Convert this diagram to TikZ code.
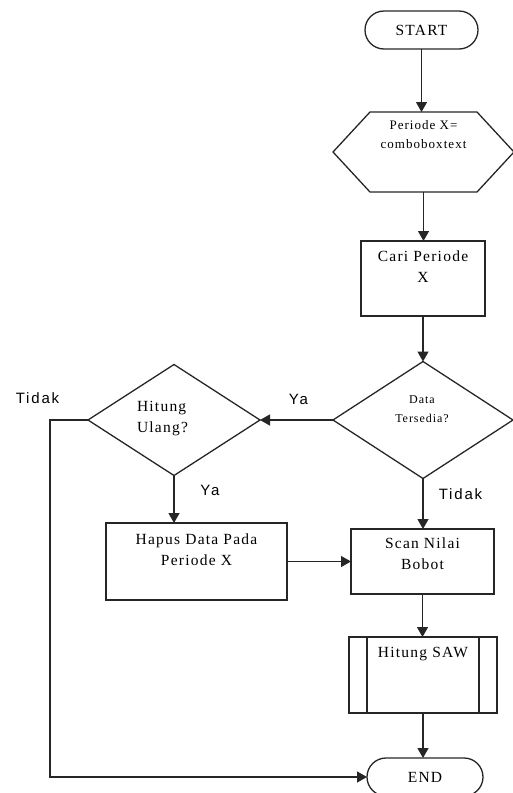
\documentclass[tikz,border=0pt]{standalone}
\usepackage{fontspec}
\setmainfont{Liberation Serif}
\newfontfamily\bxfont{Liberation Serif}[LetterSpace=8]
\newfontfamily\lblfont{Liberation Sans}[LetterSpace=12]
\usetikzlibrary{shapes.geometric,arrows.meta,calc}

\begin{document}
\begin{tikzpicture}[x=1pt,y=-1pt,
  every node/.style={inner sep=0pt, outer sep=0pt},
  flowline/.style={draw=black!85, line width=1.3pt},
  arrowline/.style={flowline, -{Triangle[length=10pt,width=11pt]}},
  terminal/.style={flowline, rectangle, rounded corners=19pt,
    minimum width=#1, minimum height=38pt, font=\bxfont\fontsize{15.5}{18}\selectfont},
  procbox/.style 2 args={flowline, rectangle, minimum width=#1, minimum height=#2},
  decision/.style 2 args={flowline, diamond, minimum width=#1, minimum height=#2},
  frame/.style 2 args={rectangle, minimum width=#1, minimum height=#2},
  boxtxt/.style={align=center, font=\bxfont\fontsize{15.5}{21}\selectfont},
  smalltxt/.style={align=center, font=\bxfont\fontsize{13}{19.5}\selectfont},
  tinytxt/.style={align=center, font=\bxfont\fontsize{12}{19}\selectfont},
  lbl/.style={font=\lblfont\fontsize{15}{18}\selectfont}
]
\useasboundingbox (0,0) rectangle (512,793);

% shapes
\node[terminal=113pt] (start) at (421.5,30) {START};
\node[frame={181pt}{80pt}] (hex) at (423.5,152) {};
\draw[flowline] ($(hex.north west)+(37,0)$) -- ($(hex.north east)+(-37,0)$)
  -- (hex.east) -- ($(hex.south east)+(-37,0)$) -- ($(hex.south west)+(37,0)$)
  -- (hex.west) -- cycle;
\node[procbox={124pt}{75pt}] (cari) at (423,278.5) {};
\node[decision={180pt}{117pt}] (data) at (423,420) {};
\node[decision={172pt}{111pt}] (hit) at (174,420) {};
\node[procbox={181pt}{77pt}] (hapus) at (196.5,561.5) {};
\node[procbox={143pt}{65pt}] (scan) at (422.5,561.5) {};
\node[procbox={148pt}{76pt}] (saw) at (423,675) {};
\draw[flowline] ($(saw.north west)+(18,0)$) -- ($(saw.south west)+(18,0)$);
\draw[flowline] ($(saw.north east)+(-18,0)$) -- ($(saw.south east)+(-18,0)$);
\node[terminal=116pt] (end) at (425,777) {END};
\coordinate (corner) at (50,420);

% texts inside shapes
\node[smalltxt, anchor=north] at ([yshift=-8pt]hex.north) {Periode X=\\comboboxtext};
\node[boxtxt, anchor=north] at ([yshift=-9.3pt]cari.north) {Cari Periode\\X};
\node[tinytxt, anchor=north] at ([xshift=-1pt,yshift=24.6pt]data.center) {Data\\Tersedia?};
\node[boxtxt, align=left, anchor=north west] at ([xshift=-37pt,yshift=18.7pt]hit.center) {Hitung\\Ulang?};
\node[boxtxt, anchor=north] at ([yshift=-10.3pt]hapus.north) {Hapus Data Pada\\Periode X};
\node[boxtxt, anchor=north] at ([yshift=-8.3pt]scan.north) {Scan Nilai\\Bobot};
\node[boxtxt, anchor=north] at ([yshift=-10.3pt]saw.north) {Hitung SAW};

% connectors
\draw[arrowline] (start.south) -- (start.south |- hex.north);
\draw[arrowline] (hex.south) -- (hex.south |- cari.north);
\draw[arrowline] (cari.south) -- (cari.south |- data.north);
\draw[arrowline] (data.west) -- (hit.east);
\draw[arrowline] (hit.south) -- (hit.south |- hapus.north);
\draw[arrowline] (data.south) -- (data.south |- scan.north);
\draw[arrowline] (hapus.east) -- (hapus.east -| scan.west);
\draw[arrowline] (scan.south) -- (scan.south |- saw.north);
\draw[arrowline] (saw.south) -- (saw.south |- end.north);
\draw[arrowline] (hit.west) -- (corner) |- (end.west);

% branch labels
\node[lbl] (tidak1) at (37.5,398) {Tidak};
\node[lbl] (ya1) at (298.5,399) {Ya};
\node[lbl] (ya2) at (210,490) {Ya};
\node[lbl] (tidak2) at (460.5,494) {Tidak};
\end{tikzpicture}
\end{document}
